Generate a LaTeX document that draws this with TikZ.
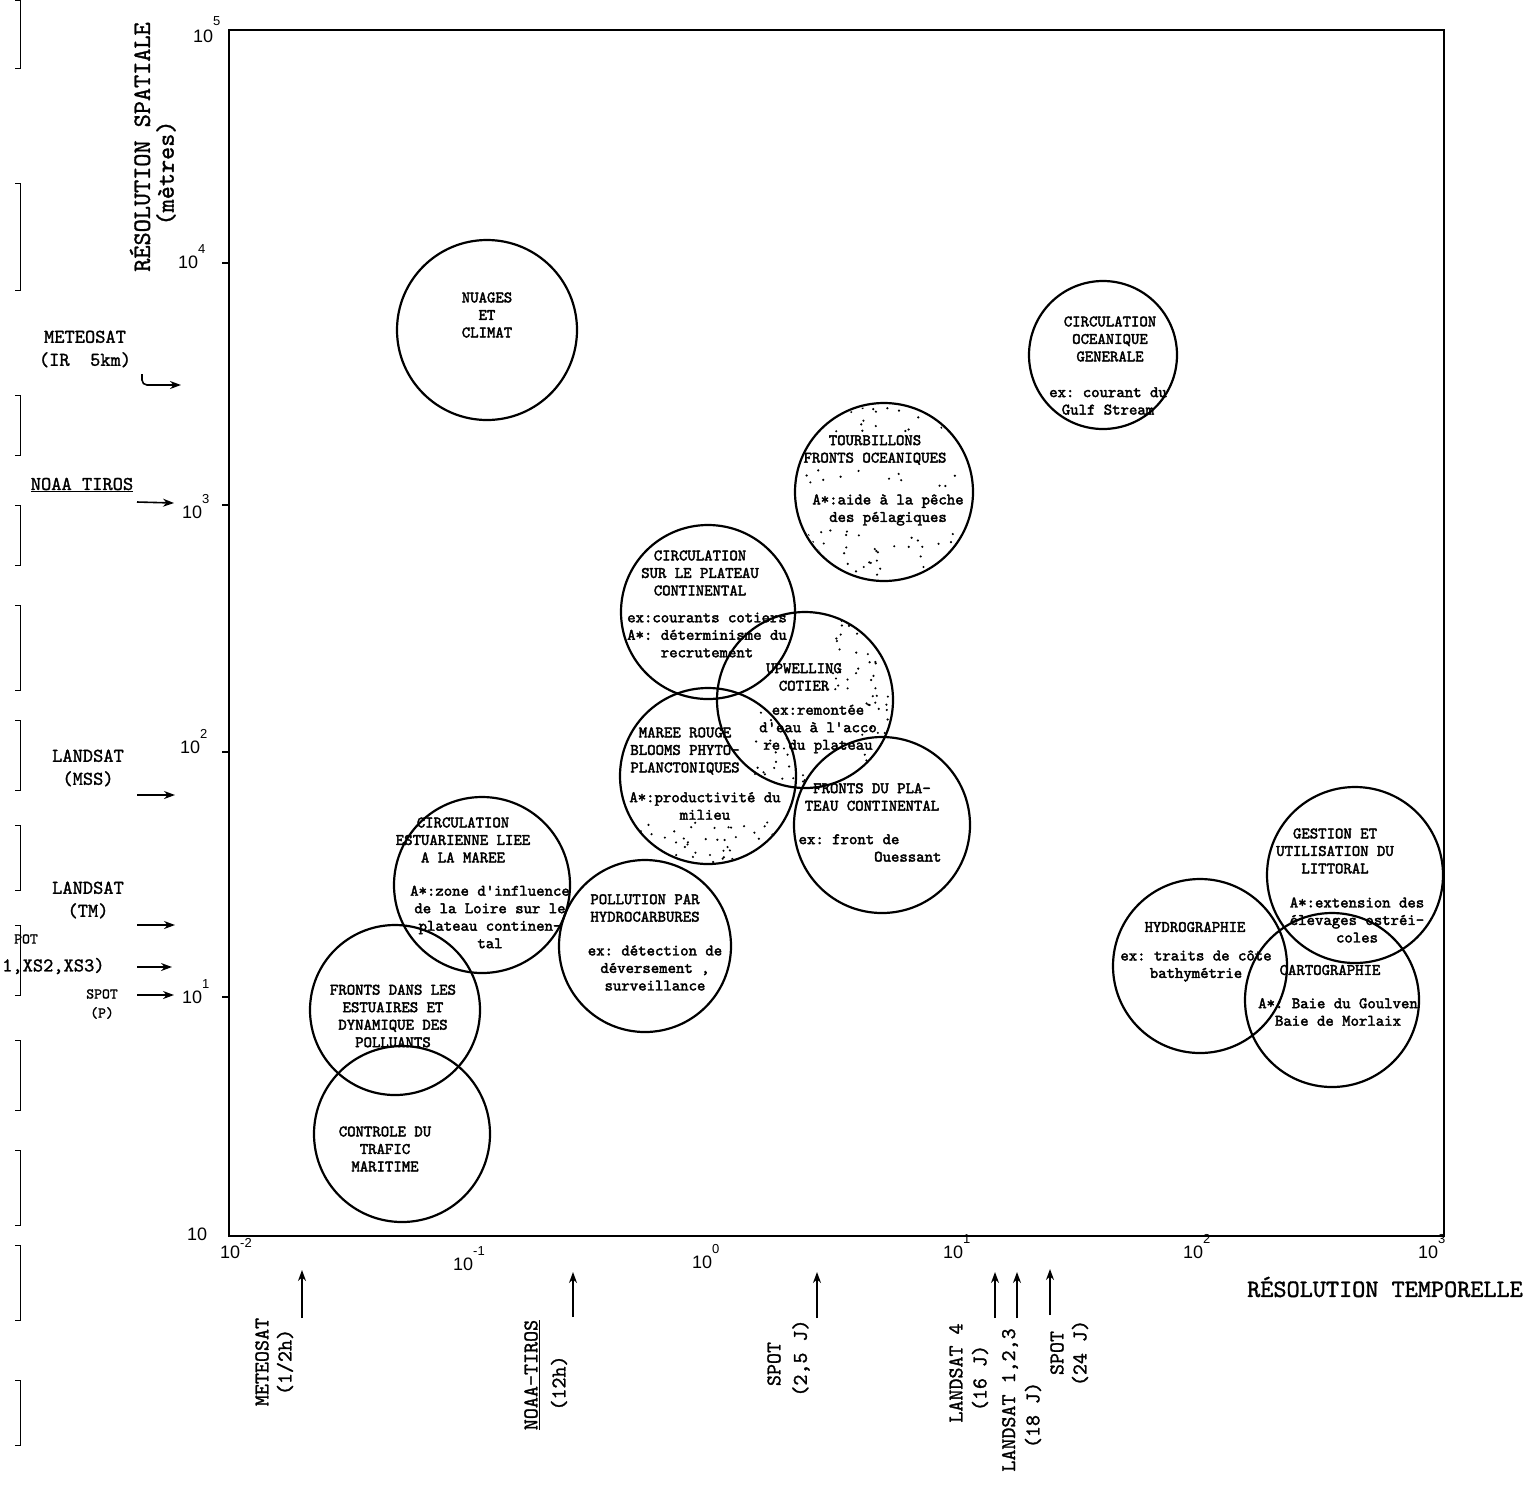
\documentclass[tikz,border=0pt]{standalone}
\usepackage{fontspec}
\setmainfont{Liberation Serif}
\newfontfamily\numfont{Liberation Sans}
\newfontfamily\ztt{lmmono10-regular}[Extension=.otf, FakeBold=2.4]
\newfontfamily\ltt{lmmono10-regular}[Extension=.otf, FakeBold=1.3]
\usetikzlibrary{arrows.meta}
\frenchspacing
\newcommand\pw[2][15pt]{10\raisebox{#1}{\fontsize{13}{13}\selectfont #2}}
\newcommand\speckle[5]{\foreach \i in {1,...,#5}{\fill ({#1+rnd*(#2-#1)},{#3+rnd*(#4-#3)}) circle (1.2pt);}}
\tikzset{
  zone/.style={draw, circle, line width=2.2pt, minimum size=#1, inner sep=0pt},
  ztxt/.style={font=\ztt\fontsize{16}{17.5}\selectfont\frenchspacing, align=center, inner sep=0pt},
  lab/.style={font=\ltt\fontsize{19.5}{23}\selectfont, align=center, inner sep=0pt},
  slab/.style={font=\ltt\fontsize{15}{19}\selectfont, align=center, inner sep=0pt},
  blab/.style={font=\ltt\fontsize{21}{24}\selectfont, rotate=90, inner sep=0pt},
  ttl/.style={font=\ltt\fontsize{25}{28}\selectfont, inner sep=0pt},
  num/.style={font=\numfont\fontsize{18}{18}\selectfont, inner sep=0pt, anchor=base west},
  arr/.style={-{Stealth[length=11pt,width=8pt]}, line width=1.6pt},
  frameline/.style={line width=2.5pt},
  brk/.style={line width=0.8pt},
}
\begin{document}
\begin{tikzpicture}[x=1pt,y=-1pt]
\useasboundingbox (0,0) rectangle (1536,1484);
\fill[white] (0,0) rectangle (1536,1484);

% margin brackets (scan)
\foreach \a/\b in {0/68,183/290,395/455,505/565,605/690,720/790,825/890,925/995,1040/1110,1150/1225,1245/1320,1380/1445}
  {\draw[brk] (15,\a) -- (20,\a) -- (20,\b) -- (15,\b);}

% frame
\draw[frameline] (229,30) rectangle (1444,1236);
\foreach \yy in {263,505,752,997} {\draw[line width=1.5pt] (222,\yy) -- (229,\yy);}

% tick labels
\node[num] (y5) at (193,42) {\pw[17pt]{5}};
\node[num] (y4) at (178,268) {\pw{4}};
\node[num] (y3) at (182,518) {\pw{3}};
\node[num] (y2) at (180,753) {\pw{2}};
\node[num] (y1) at (182,1003) {\pw{1}};
\node[num] (y0) at (187,1240) {10};
\node[num] (xm2) at (220,1258) {\pw[11pt]{-2}};
\node[num] (xm1) at (453,1270) {\pw{-1}};
\node[num] (x0) at (692,1268) {\pw{0}};
\node[num] (x1) at (943,1258) {\pw{1}};
\node[num] (x2) at (1183,1258) {\pw{2}};
\node[num] (x3) at (1418,1258) {\pw{3}};

% axis titles
\node[ttl, rotate=90] (ytitle) at (140,147) {RÉSOLUTION SPATIALE};
\node[ttl, rotate=90] (yunit) at (166,173) {(mètres)};
\node[ttl] (xtitle) at (1385,1287) {RÉSOLUTION TEMPORELLE};

% left labels and arrows
\node[lab] (lmet) at (85,349) {METEOSAT\\(IR\ \ 5km)};
\coordinate (lmetA) at (142,374);
\coordinate (lmetB) at (181,385);
\draw[arr, rounded corners=5pt] (lmetA) |- (lmetB);

\node[lab] (lnoaa) at (82,485) {\underline{NOAA TIROS}};
\coordinate (lnoaaA) at (137,502);
\coordinate (lnoaaB) at (174,503);
\draw[arr] (lnoaaA) -- (lnoaaB);

\node[lab] (lmss) at (88,768) {LANDSAT\\(MSS)};
\coordinate (lmssA) at (137,795);
\coordinate (lmssB) at (175,795);
\draw[arr] (lmssA) -- (lmssB);

\node[lab] (ltm) at (88,900) {LANDSAT\\(TM)};
\coordinate (ltmA) at (137,925);
\coordinate (ltmB) at (175,925);
\draw[arr] (ltmA) -- (ltmB);

\node[slab, anchor=west] (lpot) at (14,939) {POT};
\node[lab, anchor=west] (lxs) at (2,966) {1,XS2,XS3)};
\coordinate (lxsA) at (137,967);
\coordinate (lxsB) at (172,967);
\draw[arr] (lxsA) -- (lxsB);

\node[slab] (lspot) at (102,1004) {SPOT\\(P)};
\coordinate (lspotA) at (137,995);
\coordinate (lspotB) at (174,995);
\draw[arr] (lspotA) -- (lspotB);

% bottom labels and arrows
\node[blab] (bmet) at (262,1362) {METEOSAT};
\node[blab] (bmet2) at (285,1362) {(1/2h)};
\coordinate (bmetA) at (302,1318); \coordinate (bmetB) at (302,1270);
\draw[arr] (bmetA) -- (bmetB);

\node[blab] (bnoaa) at (532,1375) {\underline{NOAA-TIROS}};
\node[blab] (bnoaa2) at (559,1383) {(12h)};
\coordinate (bnoaaA) at (573,1317); \coordinate (bnoaaB) at (573,1272);
\draw[arr] (bnoaaA) -- (bnoaaB);

\node[blab] (bspot) at (774,1364) {SPOT};
\node[blab] (bspot2) at (801,1358) {(2,5 J)};
\coordinate (bspotA) at (817,1318); \coordinate (bspotB) at (817,1272);
\draw[arr] (bspotA) -- (bspotB);

\node[blab] (bl4) at (956,1373) {LANDSAT 4};
\node[blab] (bl42) at (980,1378) {(16 J)};
\coordinate (bl4A) at (995,1318); \coordinate (bl4B) at (995,1272);
\draw[arr] (bl4A) -- (bl4B);

\node[blab] (bl1) at (1010,1400) {LANDSAT 1,2,3};
\node[blab] (bl12) at (1033,1415) {(18 J)};
\coordinate (bl1A) at (1017,1318); \coordinate (bl1B) at (1017,1272);
\draw[arr] (bl1A) -- (bl1B);

\node[blab] (bs24) at (1057,1353) {SPOT};
\node[blab] (bs242) at (1080,1353) {(24 J)};
\coordinate (bs24A) at (1050,1315); \coordinate (bs24B) at (1050,1269);
\draw[arr] (bs24A) -- (bs24B);

% circles
\node[zone=180pt] (nuages) at (487,330) {};
\node[zone=148pt] (cog) at (1103,355) {};
\node[zone=178pt] (tourb) at (884,492) {};
\node[zone=174pt] (cplat) at (708,612) {};
\node[zone=176pt] (upw) at (805,700) {};
\node[zone=176pt] (maree) at (708,776) {};
\node[zone=176pt] (fplat) at (882,825) {};
\node[zone=176pt] (cest) at (482,885) {};
\node[zone=172pt] (pollu) at (645,946) {};
\node[zone=170pt] (festu) at (395,1010) {};
\node[zone=176pt] (trafic) at (402,1134) {};
\node[zone=174pt] (hydro) at (1200,966) {};
\node[zone=176pt] (gest) at (1355,875) {};
\node[zone=174pt] (carto) at (1332,1000) {};

% stippling
\pgfmathsetseed{7}
\begin{scope}
  \clip (tourb.center) circle (87pt);
  \speckle{810}{960}{405}{432}{25}
  \speckle{800}{975}{470}{488}{12}
  \speckle{800}{970}{530}{578}{45}
\end{scope}
\begin{scope}
  \clip (upw.center) circle (87pt);
  \speckle{830}{893}{615}{700}{35}
  \speckle{862}{893}{700}{770}{18}
  \speckle{755}{805}{758}{785}{12}
\end{scope}
\begin{scope}
  \clip (maree.center) circle (87pt);
  \speckle{640}{790}{822}{862}{45}
  \speckle{755}{795}{700}{790}{15}
\end{scope}

% circle texts
\node[ztxt] (tnuages) at (487,315) {NUAGES\\ET\\CLIMAT};
\node[ztxt] (tcog) at (1110,339) {CIRCULATION\\OCEANIQUE\\GENERALE};
\node[ztxt] (ecog) at (1108,401) {ex: courant du\\Gulf Stream};
\node[ztxt] (ttourb) at (875,450) {TOURBILLONS\\FRONTS OCEANIQUES};
\node[ztxt] (etourb) at (888,510) {A*:aide à la pêche\\des pélagiques};
\node[ztxt] (tcplat) at (700,573) {CIRCULATION\\SUR LE PLATEAU\\CONTINENTAL};
\node[ztxt] (ecplat) at (707,635) {ex:courants cotiers\\A*: déterminisme du\\recrutement};
\node[ztxt] (tupw) at (804,677) {UPWELLING\\COTIER};
\node[ztxt] (eupw) at (818,729) {ex:remontée\\d'eau à l'acco\\re du plateau};
\node[ztxt] (tmaree) at (685,751) {MAREE ROUGE\\BLOOMS PHYTO-\\PLANCTONIQUES};
\node[ztxt] (emaree) at (705,806) {A*:productivité du\\milieu};
\node[ztxt] (tfplat) at (872,797) {FRONTS DU PLA-\\TEAU CONTINENTAL};
\node[ztxt, align=left] (efplat) at (870,848) {ex: front de\\\hphantom{ex: front}Ouessant};
\node[ztxt] (tcest) at (463,840) {CIRCULATION\\ESTUARIENNE LIEE\\A LA MAREE};
\node[ztxt] (ecest) at (490,917) {A*:zone d'influence\\de la Loire sur le\\plateau continen-\\tal};
\node[ztxt] (tpollu) at (645,908) {POLLUTION PAR\\HYDROCARBURES};
\node[ztxt] (epollu) at (655,968) {ex: détection de\\déversement ,\\surveillance};
\node[ztxt] (tfestu) at (393,1016) {FRONTS DANS LES\\ESTUAIRES ET\\DYNAMIQUE DES\\POLLUANTS};
\node[ztxt] (ttrafic) at (385,1149) {CONTROLE DU\\TRAFIC\\MARITIME};
\node[ztxt] (thydro) at (1195,927) {HYDROGRAPHIE};
\node[ztxt] (ehydro) at (1196,966) {ex: traits de côte\\bathymétrie};
\node[ztxt] (tgest) at (1335,851) {GESTION ET\\UTILISATION DU\\LITTORAL};
\node[ztxt] (egest) at (1357,920) {A*:extension des\\élevages ostréi-\\coles};
\node[ztxt] (tcarto) at (1330,970) {CARTOGRAPHIE};
\node[ztxt] (ecarto) at (1338,1012) {A*: Baie du Goulven\\Baie de Morlaix};
\end{tikzpicture}
\end{document}
